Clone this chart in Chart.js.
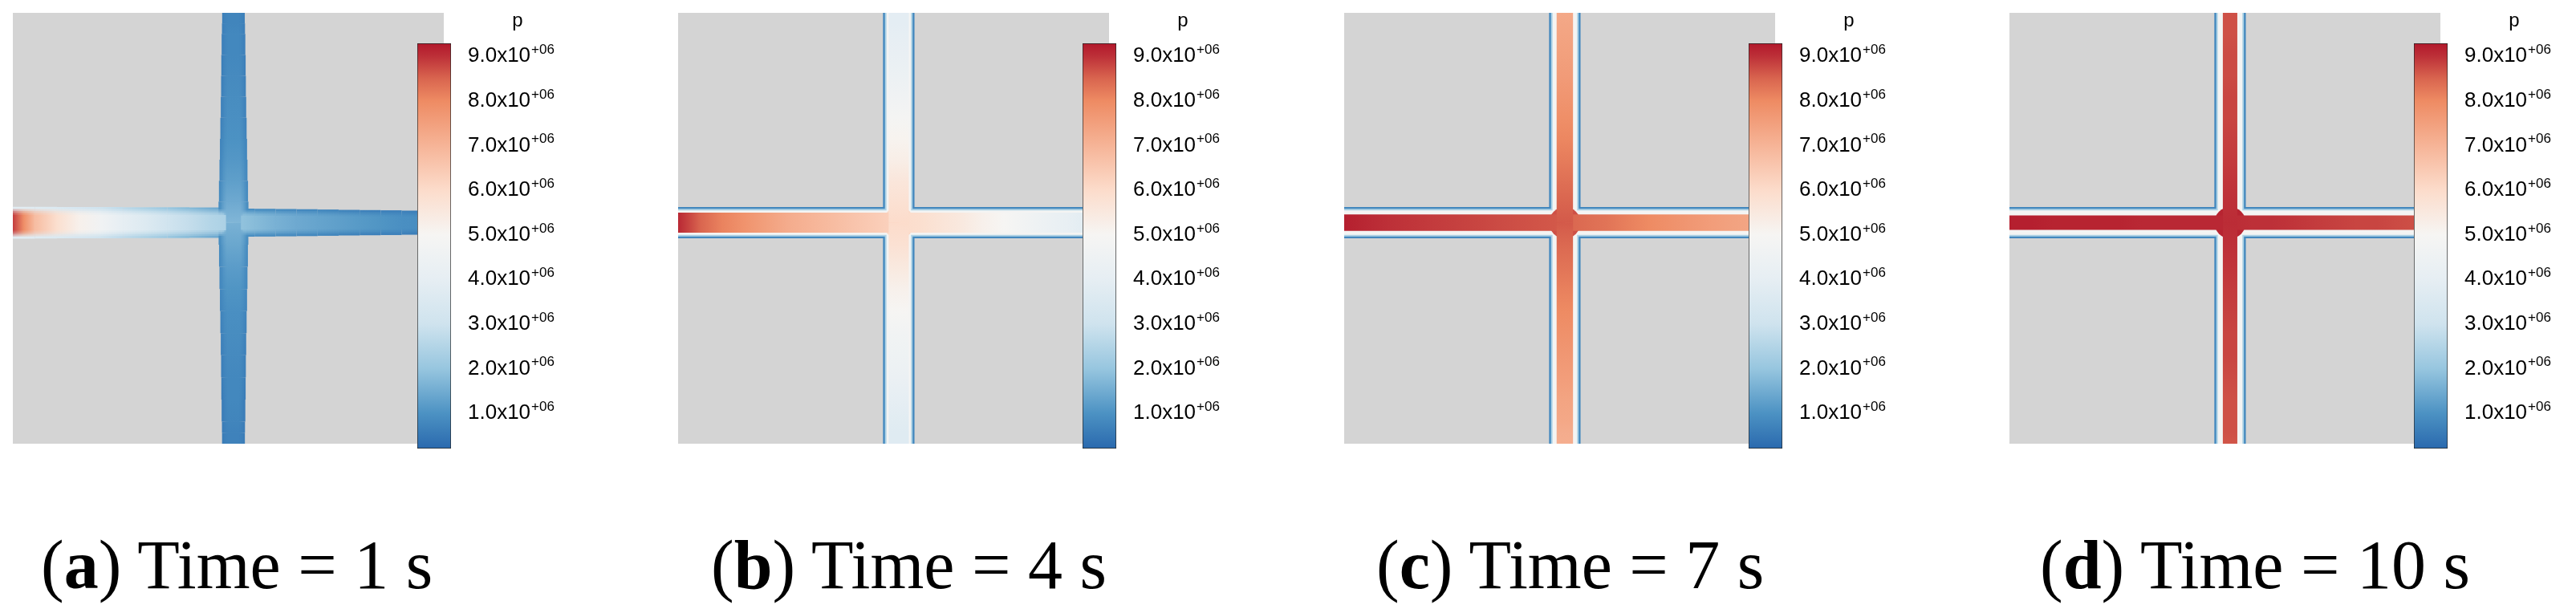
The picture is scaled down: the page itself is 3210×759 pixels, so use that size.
<!DOCTYPE html>
<html>
<head>
<meta charset="utf-8">
<script src="https://cdn.jsdelivr.net/npm/chart.js@4.4.1/dist/chart.umd.min.js"></script>
<style>
html,body{margin:0;padding:0;background:#fff;}
#root{position:relative;width:3210px;height:759px;overflow:hidden;background:#fff;}
#root canvas{position:absolute;display:block;}
.cap{position:absolute;font-family:'Liberation Serif','Times New Roman',serif;font-size:86px;line-height:86px;white-space:nowrap;color:#000;}
.cap b{font-weight:bold;}
</style>
</head>
<body>
<div id="root"></div>
<script>
// ---------------- DATA (pressure in units of 1e6 Pa) ----------------
const panelLetters = ['a', 'b', 'c', 'd'];
const panelTimes = [1, 4, 7, 10];          // s
const tickValues = [1, 2, 3, 4, 5, 6, 7, 8, 9];
const tickExponent = '+06';
const colorbarTitle = 'p';
const pRange = [0.21, 9.29];               // colour bar extent
// stations along each fracture arm: 0 = intersection, 1 = domain boundary
const stations = [0, 0.1, 0.2, 0.3, 0.4, 0.5, 0.6, 0.7, 0.8, 0.9, 0.95, 1];
const junction = [0.512, 0.513];           // intersection location (domain units)

// (a) t = 1 s : core pressure
const pA_left   = [2.3, 2.5, 2.8, 3.1, 3.6, 4.0, 4.6, 5.2, 5.9, 6.8, 7.9, 8.9];
const pA_right  = [2.0, 1.8, 1.6, 1.45, 1.35, 1.25, 1.15, 1.05, 0.95, 0.9, 0.85, 0.8];
const pA_top    = [1.7, 1.45, 1.25, 1.1, 1.0, 0.95, 0.9, 0.85, 0.8, 0.8, 0.75, 0.75];
const pA_bottom = [1.6, 1.4, 1.2, 1.05, 0.95, 0.9, 0.85, 0.8, 0.8, 0.75, 0.7, 0.7];
// (a) pressure at fracture walls
const pA_wall_left   = [1.3, 1.5, 1.8, 2.1, 2.4, 2.7, 3.0, 3.3, 3.5, 3.7, 3.8, 3.8];
const pA_wall_right  = [1.0, 0.95, 0.9, 0.85, 0.8, 0.75, 0.7, 0.65, 0.65, 0.6, 0.6, 0.6];
const pA_wall_top    = [1.0, 0.9, 0.85, 0.8, 0.75, 0.7, 0.7, 0.65, 0.65, 0.65, 0.65, 0.65];
const pA_wall_bottom = [1.0, 0.9, 0.85, 0.8, 0.75, 0.7, 0.65, 0.65, 0.6, 0.6, 0.6, 0.6];
// (a) aperture (domain units)
const wA_left   = [0.071, 0.071, 0.071, 0.072, 0.072, 0.072, 0.073, 0.073, 0.073, 0.074, 0.074, 0.074];
const wA_right  = [0.066, 0.065, 0.064, 0.063, 0.062, 0.060, 0.059, 0.058, 0.057, 0.055, 0.055, 0.054];
const wA_top    = [0.070, 0.069, 0.066, 0.064, 0.062, 0.060, 0.058, 0.057, 0.056, 0.054, 0.053, 0.052];
const wA_bottom = [0.070, 0.068, 0.066, 0.064, 0.062, 0.060, 0.058, 0.057, 0.056, 0.054, 0.053, 0.053];

// (b) t = 4 s
const pB_left   = [6.2, 6.4, 6.6, 6.8, 7.0, 7.2, 7.5, 7.8, 8.1, 8.5, 8.8, 9.1];
const pB_right  = [6.0, 5.9, 5.7, 5.5, 5.2, 5.0, 4.7, 4.4, 4.1, 3.8, 3.7, 3.6];
const pB_top    = [6.0, 5.8, 5.6, 5.3, 5.1, 4.9, 4.6, 4.4, 4.2, 4.0, 3.9, 3.9];
const pB_bottom = [6.0, 5.8, 5.5, 5.2, 5.0, 4.7, 4.5, 4.3, 4.0, 3.8, 3.7, 3.7];
// (c) t = 7 s
const pC_left   = [8.6, 8.65, 8.7, 8.75, 8.8, 8.85, 8.9, 8.95, 9.0, 9.1, 9.15, 9.2];
const pC_right  = [8.5, 8.4, 8.3, 8.15, 8.0, 7.85, 7.7, 7.55, 7.45, 7.35, 7.3, 7.25];
const pC_top    = [8.6, 8.5, 8.35, 8.2, 8.05, 7.9, 7.75, 7.6, 7.5, 7.4, 7.35, 7.3];
const pC_bottom = [8.6, 8.45, 8.3, 8.15, 8.0, 7.85, 7.7, 7.55, 7.4, 7.3, 7.2, 7.15];
// (d) t = 10 s
const pD_left   = [9.1, 9.1, 9.1, 9.1, 9.1, 9.15, 9.15, 9.15, 9.15, 9.2, 9.2, 9.2];
const pD_right  = [9.05, 9.0, 9.0, 8.95, 8.9, 8.85, 8.8, 8.8, 8.75, 8.7, 8.7, 8.7];
const pD_top    = [9.05, 9.0, 8.95, 8.9, 8.85, 8.8, 8.8, 8.75, 8.75, 8.7, 8.7, 8.7];
const pD_bottom = [9.05, 9.0, 8.95, 8.9, 8.85, 8.8, 8.8, 8.75, 8.7, 8.7, 8.7, 8.65];
// (b)-(d) pressure across the fracture: wall, near wall, transition
const pWallProfile = [0.8, 2.4, 4.9];
const apertureBCD = [0.073, 0.073, 0.073];
const pJunction = [null, 6.1, 8.7, 9.15];

// ---------------- STYLE ----------------
const cmapP = [0.21, 1.0, 2.0, 3.0, 4.0, 5.0, 6.0, 7.0, 8.0, 8.5, 9.0, 9.29];
const cmapC = ['#2a69ae','#4c92c3','#97c6df','#cfe3ee','#e6eef3','#f6f5f3','#fcdccb','#f6b497','#ee8b63','#d9654f','#bd3038','#b2182b'];
const panelLeft = [16, 845, 1675, 2504];
const captionLeft = [51, 886, 1715, 2542];
const FIELD = 537, TOP = 16;
const SANS = "'Liberation Sans', Arial, sans-serif";

function hexRgb(h){ return [1,3,5].map(i => parseInt(h.slice(i, i+2), 16)); }
const cmapRGB = cmapC.map(hexRgb);
function colorOf(p, a){
  if (a === undefined) a = 1;
  let c;
  if (p <= cmapP[0]) c = cmapRGB[0];
  else if (p >= cmapP[cmapP.length-1]) c = cmapRGB[cmapRGB.length-1];
  else {
    let i = 0;
    while (p > cmapP[i+1]) i++;
    const t = (p - cmapP[i]) / (cmapP[i+1] - cmapP[i]);
    c = cmapRGB[i].map((v, k) => Math.round(v + t*(cmapRGB[i+1][k] - v)));
  }
  return `rgba(${c[0]},${c[1]},${c[2]},${a})`;
}

function armPoint(arm, f){
  const [xc, yc] = junction;
  switch (arm) {
    case 'left':   return {x: xc*(1-f), y: yc};
    case 'right':  return {x: xc + (1-xc)*f, y: yc};
    case 'top':    return {x: xc, y: yc + (1-yc)*f};
    default:       return {x: xc, y: yc*(1-f)};
  }
}
function widthPx(chart, arm, w){
  const s = (arm === 'left' || arm === 'right') ? chart.scales.y : chart.scales.x;
  return Math.abs(s.getPixelForValue(w) - s.getPixelForValue(0));
}
function armGradient(chart, arm, vals, alpha){
  const xs = chart.scales.x, ys = chart.scales.y;
  const a = armPoint(arm, 0), b = armPoint(arm, 1);
  const g = chart.ctx.createLinearGradient(xs.getPixelForValue(a.x), ys.getPixelForValue(a.y),
                                           xs.getPixelForValue(b.x), ys.getPixelForValue(b.y));
  stations.forEach((f, i) => g.addColorStop(f, colorOf(vals[i], alpha)));
  return g;
}
function armDataset(arm, vals, ap, frac, alpha){
  const d = {
    data: stations.map(f => armPoint(arm, f)),
    pointRadius: 0, pointHoverRadius: 0, tension: 0, fill: false, clip: 0,
    borderCapStyle: 'butt',
    borderColor: ctx => {
      if (!ctx.chart.chartArea) return 'rgba(0,0,0,0)';
      return Array.isArray(vals) ? armGradient(ctx.chart, arm, vals, alpha) : colorOf(vals, alpha);
    },
    borderWidth: ctx => {
      if (!ctx.chart.chartArea) return 1;
      return frac * widthPx(ctx.chart, arm, Array.isArray(ap) ? ap[0] : ap);
    }
  };
  if (Array.isArray(ap)) {
    d.segment = { borderWidth: s => frac * widthPx(s.chart, arm, (ap[s.p0DataIndex] + ap[s.p1DataIndex]) / 2) };
  }
  return d;
}
function junctionDataset(p, ap, frac){
  return {
    data: [{x: junction[0], y: junction[1]}],
    showLine: false, clip: 0,
    pointRadius: ctx => ctx.chart.chartArea ? frac * widthPx(ctx.chart, 'top', ap) : 0,
    pointHoverRadius: 0,
    pointBackgroundColor: colorOf(p), pointBorderWidth: 0, pointBorderColor: 'rgba(0,0,0,0)'
  };
}

const ARMS = ['left', 'right', 'top', 'bottom'];
const panels = [
  { core: {left: pA_left, right: pA_right, top: pA_top, bottom: pA_bottom},
    wall: {left: pA_wall_left, right: pA_wall_right, top: pA_wall_top, bottom: pA_wall_bottom},
    ap:   {left: wA_left, right: wA_right, top: wA_top, bottom: wA_bottom},
    layers: [{frac: 1, src: 'wall'}, {frac: 0.86, src: 'core', alpha: 0.3}, {frac: 0.74, src: 'core', alpha: 0.45},
             {frac: 0.62, src: 'core', alpha: 0.6}, {frac: 0.5, src: 'core'}],
    blur: 0 },
  { core: {left: pB_left, right: pB_right, top: pB_top, bottom: pB_bottom}, apc: apertureBCD[0], pj: pJunction[1], coreFrac: 0.64, blur: 0.7 },
  { core: {left: pC_left, right: pC_right, top: pC_top, bottom: pC_bottom}, apc: apertureBCD[1], pj: pJunction[2], coreFrac: 0.52, blur: 0.7 },
  { core: {left: pD_left, right: pD_right, top: pD_top, bottom: pD_bottom}, apc: apertureBCD[2], pj: pJunction[3], coreFrac: 0.46, blur: 0.7 }
];

function buildDatasets(P){
  const ds = [];
  if (P.layers) {
    P.layers.forEach(L => ARMS.forEach(arm => {
      const vals = L.src === 'core' ? P.core[arm] : P.wall[arm];
      ds.push(armDataset(arm, vals, P.ap[arm], L.frac, L.alpha));
    }));
  } else {
    const prof = [{frac: 1, p: pWallProfile[0]}, {frac: 0.88, p: pWallProfile[1]}, {frac: 0.78, p: pWallProfile[2]}];
    prof.forEach(L => ARMS.forEach(arm => ds.push(armDataset(arm, L.p, P.apc, L.frac, 1))));
    ds.push(junctionDataset(P.pj, P.apc, 0.5));
    ARMS.forEach(arm => ds.push(armDataset(arm, P.core[arm], P.apc, P.coreFrac, 1)));
  }
  ds.forEach((d, k) => { d.order = -k; });
  return ds;
}

const fieldPlugin = {
  id: 'field',
  beforeDraw(chart, args, opts){
    const {ctx, chartArea: a} = chart;
    ctx.save(); ctx.fillStyle = opts.gray; ctx.fillRect(a.left, a.top, a.width, a.height); ctx.restore();
  },
  beforeDatasetsDraw(chart, args, opts){
    chart.ctx.save();
    if (opts.blur > 0) chart.ctx.filter = `blur(${opts.blur}px)`;
  },
  afterDatasetsDraw(chart){ chart.ctx.restore(); }
};

function tickLabel(v){ return v.toFixed(1) + 'x10'; }
const cbarPlugin = {
  id: 'cbarText',
  afterDraw(chart){
    const s = chart.scales.y, ctx = chart.ctx;
    const x0 = s.left + 21;
    ctx.save();
    ctx.fillStyle = '#000'; ctx.textAlign = 'left'; ctx.textBaseline = 'alphabetic';
    s.ticks.forEach(t => {
      ctx.font = `26px ${SANS}`;
      const w = ctx.measureText(tickLabel(t.value)).width;
      ctx.font = `17px ${SANS}`;
      ctx.fillText(tickExponent, x0 + w + 1, s.getPixelForValue(t.value) - 3);
    });
    ctx.font = `24px ${SANS}`; ctx.textAlign = 'center';
    ctx.fillText(colorbarTitle, x0 + 62, 33);
    ctx.restore();
  }
};
function cbarGradient(chart){
  const s = chart.scales.y;
  const g = chart.ctx.createLinearGradient(0, s.getPixelForValue(pRange[0]), 0, s.getPixelForValue(pRange[1]));
  cmapP.forEach((p, i) => g.addColorStop((p - pRange[0]) / (pRange[1] - pRange[0]), cmapC[i]));
  return g;
}

const root = document.getElementById('root');
panels.forEach((P, i) => {
  const L = panelLeft[i];
  // field
  const fc = document.createElement('canvas');
  fc.width = FIELD; fc.height = FIELD;
  fc.style.left = L + 'px'; fc.style.top = TOP + 'px'; fc.style.width = FIELD + 'px'; fc.style.height = FIELD + 'px';
  fc.style.zIndex = 1;
  root.appendChild(fc);
  new Chart(fc, {
    type: 'line',
    data: { datasets: buildDatasets(P) },
    options: {
      animation: false, responsive: false, events: [], devicePixelRatio: 1,
      layout: { padding: 0 },
      plugins: { legend: {display: false}, tooltip: {enabled: false}, field: {gray: '#d4d4d4', blur: P.blur} },
      scales: {
        x: { type: 'linear', min: 0, max: 1, display: false },
        y: { type: 'linear', min: 0, max: 1, display: false }
      }
    },
    plugins: [fieldPlugin]
  });
  // colour bar
  const cc = document.createElement('canvas');
  cc.width = 250; cc.height = 600;
  cc.style.left = (L + 504) + 'px'; cc.style.top = '0px'; cc.style.width = '250px'; cc.style.height = '600px';
  cc.style.zIndex = 2;
  root.appendChild(cc);
  new Chart(cc, {
    type: 'bar',
    data: { labels: [colorbarTitle], datasets: [{
      data: [[pRange[0], pRange[1]]],
      backgroundColor: ctx => ctx.chart.chartArea ? cbarGradient(ctx.chart) : '#fff',
      borderColor: '#262626', borderWidth: 1, borderSkipped: false,
      barPercentage: 1, categoryPercentage: 1
    }]},
    options: {
      animation: false, responsive: false, events: [], devicePixelRatio: 1,
      layout: { padding: {top: 54, bottom: 41, left: 0, right: 0} },
      plugins: { legend: {display: false}, tooltip: {enabled: false} },
      scales: {
        x: { display: false },
        y: {
          position: 'right', min: pRange[0], max: pRange[1],
          grid: { display: false, drawTicks: false }, border: { display: false },
          afterBuildTicks: s => { s.ticks = tickValues.map(v => ({value: v})); },
          afterFit: s => { s.width = 208; },
          ticks: { padding: 21, color: '#000', font: {family: SANS, size: 26}, callback: v => tickLabel(v) }
        }
      }
    },
    plugins: [cbarPlugin]
  });
  // caption
  const cap = document.createElement('div');
  cap.className = 'cap';
  cap.style.left = captionLeft[i] + 'px'; cap.style.top = '661px';
  cap.innerHTML = `(<b>${panelLetters[i]}</b>) Time = ${panelTimes[i]} s`;
  root.appendChild(cap);
});
</script>
</body>
</html>
